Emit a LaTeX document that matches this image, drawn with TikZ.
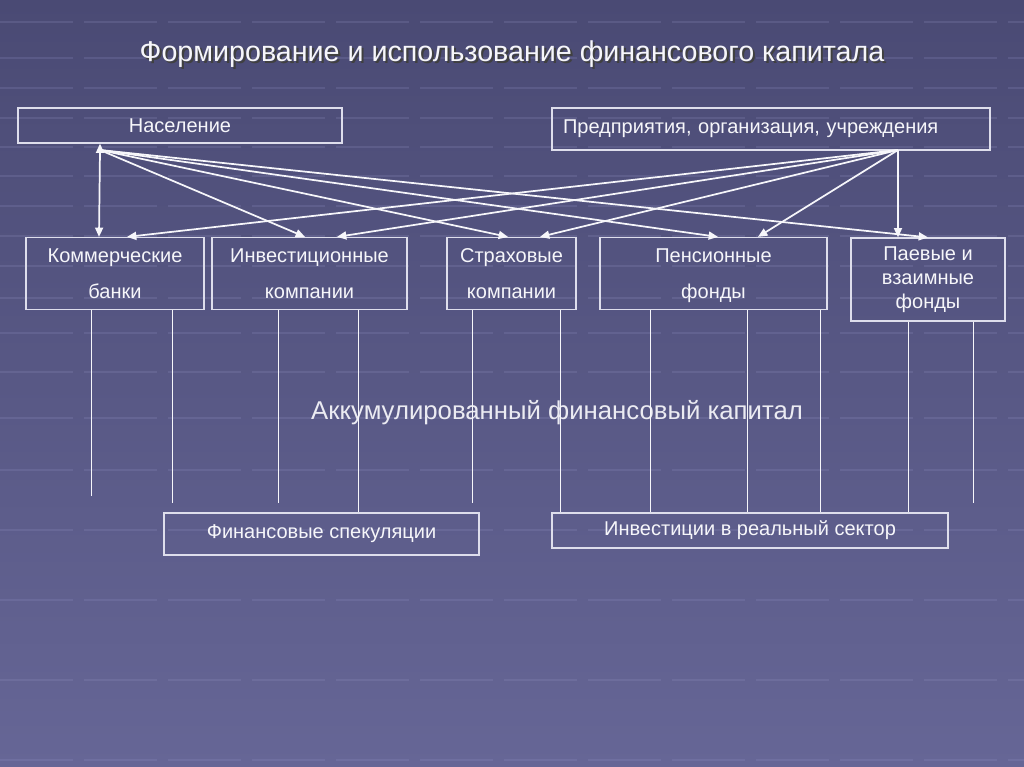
\documentclass[tikz,border=0pt]{standalone}
\usepackage{fontspec}
\setmainfont{Liberation Sans}
\usetikzlibrary{arrows.meta}
\definecolor{bgtop}{RGB}{74,74,116}
\definecolor{bgbot}{RGB}{102,102,150}
\definecolor{boxline}{RGB}{222,222,236}
\definecolor{txt}{RGB}{246,246,250}
\definecolor{gridc}{RGB}{150,150,200}
\newcommand{\shadowtext}[1]{\makebox[0pt][l]{\hspace{1.6pt}\raisebox{-1.6pt}{\color{black!75}#1}}#1}
\begin{document}
\begin{tikzpicture}[x=0.75pt,y=-0.75pt,
  box/.style={draw=boxline,line width=0.9pt,text=txt,inner sep=0pt,align=center,font=\fontsize{15}{27}\selectfont},
  arr/.style={draw=txt,line width=1.3pt,-{Triangle[length=7pt,width=6pt]}},
  vline/.style={draw=txt,line width=0.6pt},
  gridl/.style={draw=gridc,opacity=0.2,line width=1.2pt,dash pattern=on 55pt off 8pt}]
\useasboundingbox (0,0) rectangle (1024,767);
\shade[top color=bgtop,bottom color=bgbot] (0,0) rectangle (1024,767);
\foreach \yy in {22,58,88,118,147,176,206,236,266,298,333,372,418,470,530,600,680,760}
  \draw[gridl] (0,\yy) -- (1024,\yy);

\node[text=txt,font=\fontsize{21.5}{24}\selectfont] (title) at (512,55) {\shadowtext{Формирование и использование финансового капитала}};

\node[box,minimum width=324*0.75pt,minimum height=35*0.75pt] (nas) at (180,125.5) {Население};
\node[box,minimum width=438*0.75pt,minimum height=42*0.75pt,text width=416*0.75pt,align=left] (pred) at (771,129) {Предприятия, организация, учреждения};

\node[box,minimum width=178*0.75pt,minimum height=71*0.75pt] (kb) at (115,273.5) {Коммерческие\strut\\банки\strut};
\node[box,minimum width=195*0.75pt,minimum height=71*0.75pt] (ik) at (309.5,273.5) {Инвестиционные\strut\\компании\strut};
\node[box,minimum width=129*0.75pt,minimum height=71*0.75pt] (sk) at (511.5,273.5) {Страховые\strut\\компании\strut};
\node[box,minimum width=227*0.75pt,minimum height=71*0.75pt] (pf) at (713.5,273.5) {Пенсионные\strut\\фонды\strut};
\node[box,minimum width=154*0.75pt,minimum height=83*0.75pt,font=\fontsize{15}{18}\selectfont] (pv) at (928,279.5) {Паевые и\strut\\взаимные\strut\\фонды\strut};

\node[text=txt!92!bgbot,font=\fontsize{19.3}{22}\selectfont] (akk) at (557,413) {Аккумулированный финансовый капитал};

\node[box,minimum width=315*0.75pt,minimum height=42*0.75pt] (fs) at (321.5,534) {\raisebox{-2pt}{Финансовые спекуляции}};
\node[box,minimum width=396*0.75pt,minimum height=35*0.75pt] (ir) at (750,530.5) {Инвестиции в реальный сектор};

\coordinate (ns) at (100,150);
\coordinate (ps) at (898,150);

% from Население
\draw[arr] (ns) -- (nas.south -| ns);
\draw[arr] (ns) -- (kb.north -| 99,0);
\draw[arr] (ns) -- (ik.north -| 305,0);
\draw[arr] (ns) -- (sk.north -| 508,0);
\draw[arr] (ns) -- (pf.north -| 718,0);
\draw[arr] (ns) -- (pv.north -| 928,0);
% from Предприятия
\draw[arr] (ps) -- (kb.north -| 127,0);
\draw[arr] (ps) -- (ik.north -| 337,0);
\draw[arr] (ps) -- (sk.north -| 540,0);
\draw[arr] (ps) -- (pf.north -| 758,0);
\draw[arr] (ps) -- (pv.north -| 898,0);

% vertical lines
\coordinate (e1) at (91,496);
\coordinate (e2) at (172,503);
\coordinate (e3) at (278,503);
\coordinate (e4) at (472,503);
\coordinate (e5) at (973,503);
\draw[vline] (kb.south -| e1) -- (e1);
\draw[vline] (kb.south -| e2) -- (e2);
\draw[vline] (ik.south -| e3) -- (e3);
\draw[vline] (ik.south -| 358,0) -- (fs.north -| 358,0);
\draw[vline] (sk.south -| e4) -- (e4);
\draw[vline] (sk.south -| 560,0) -- (ir.north -| 560,0);
\draw[vline] (pf.south -| 650,0) -- (ir.north -| 650,0);
\draw[vline] (pf.south -| 747,0) -- (ir.north -| 747,0);
\draw[vline] (pf.south -| 820,0) -- (ir.north -| 820,0);
\draw[vline] (pv.south -| 908,0) -- (ir.north -| 908,0);
\draw[vline] (pv.south -| e5) -- (e5);
\end{tikzpicture}
\end{document}
